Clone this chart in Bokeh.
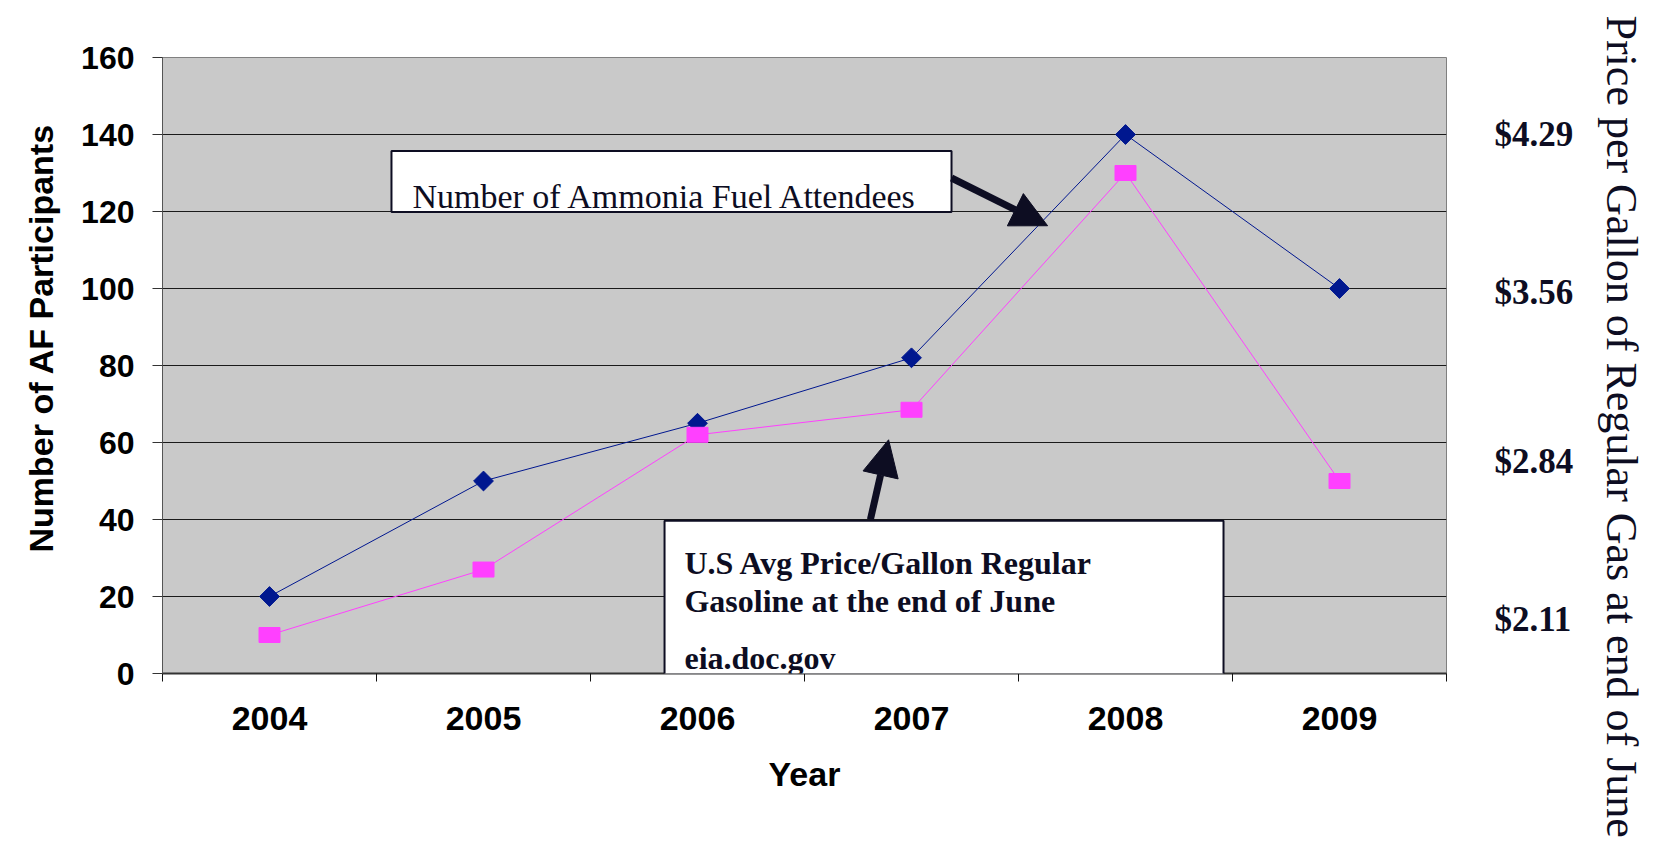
import math
from bokeh.plotting import figure
from bokeh.models import (Range1d, LinearAxis, FixedTicker, BoxAnnotation,
                          Label, Arrow, NormalHead, Title)
from bokeh.embed import file_html
from bokeh.resources import INLINE

# ---------------- data ----------------
years = [2004, 2005, 2006, 2007, 2008, 2009]
af_attendees = [20, 50, 65, 82, 140, 100]
gas_price_scaled = [10, 27, 62, 68.5, 130, 50]
left_ticks = [0, 20, 40, 60, 80, 100, 120, 140, 160]
price_tick_labels = ["$4.29", "$3.56", "$2.84", "$2.11"]
price_tick_pos = [140, 99, 55, 14]
category_edges = [2003.5, 2004.5, 2005.5, 2006.5, 2007.5, 2008.5, 2009.5]

BLUE = "#00178F"
PINK = "#FF40FF"
INK = "#0d0d22"
SANS = "Liberation Sans"
SERIF = "Liberation Serif"

p = figure(width=1670, height=841, output_backend="svg", toolbar_location=None,
           x_range=Range1d(2003.5, 2009.5), y_range=Range1d(0, 160),
           min_border_left=162, min_border_right=224, min_border_top=57,
           min_border_bottom=168, background_fill_color="#C9C9C9",
           border_fill_color="white")
p.outline_line_color = "#808080"
p.outline_line_width = 1

# grid
p.xgrid.visible = False
p.ygrid.ticker = FixedTicker(ticks=left_ticks)
p.ygrid.grid_line_color = "#1a1a1a"
p.ygrid.grid_line_width = 1

# left axis (title added separately so it can sit where the original does)
yax = p.yaxis[0]
yax.ticker = FixedTicker(ticks=left_ticks)
yax.major_label_text_font = SANS
yax.major_label_text_font_style = "bold"
yax.major_label_text_font_size = "32px"
yax.major_label_text_color = "black"
yax.major_label_standoff = 18
yax.major_tick_out = 10
yax.major_tick_in = 0
yax.major_tick_line_color = "#333333"
yax.minor_tick_line_color = None
yax.axis_line_color = "#555555"

p.add_layout(Title(text="Number of AF Participants", align="left", offset=121,
                   vertical_align="bottom", standoff=37, text_font=SANS,
                   text_font_style="bold", text_font_size="34px",
                   text_color="black"), "left")

# bottom axis
xax = p.xaxis[0]
xax.ticker = FixedTicker(ticks=years, minor_ticks=category_edges)
xax.axis_label = "Year"
xax.axis_label_text_font = SANS
xax.axis_label_text_font_style = "bold"
xax.axis_label_text_font_size = "34px"
xax.axis_label_text_color = "black"
xax.axis_label_standoff = 22
xax.major_label_text_font = SANS
xax.major_label_text_font_style = "bold"
xax.major_label_text_font_size = "34px"
xax.major_label_text_color = "black"
xax.major_label_standoff = 25
xax.major_tick_out = 0
xax.major_tick_in = 0
xax.minor_tick_out = 8
xax.minor_tick_in = 0
xax.minor_tick_line_color = "#111111"
xax.axis_line_color = "#333333"
xax.axis_line_width = 2

# right axis (price labels)
rax = LinearAxis(ticker=FixedTicker(ticks=price_tick_pos),
                 major_label_overrides={pos: lab for pos, lab in zip(price_tick_pos, price_tick_labels)})
rax.axis_line_color = None
rax.major_tick_line_color = None
rax.minor_tick_line_color = None
rax.major_tick_out = 0
rax.major_tick_in = 0
rax.major_label_text_font = SERIF
rax.major_label_text_font_style = "bold"
rax.major_label_text_font_size = "35px"
rax.major_label_text_color = INK
rax.major_label_standoff = 48
p.add_layout(rax, "right")

# right-hand title
p.add_layout(Title(text="Price per Gallon of Regular Gas at end of June",
                   align="left", offset=-42, vertical_align="bottom", standoff=41,
                   text_font=SERIF, text_font_style="normal", text_font_size="44px",
                   text_color=INK), "right")

# series
p.line(years, af_attendees, line_color=BLUE, line_width=1)
p.scatter(years, af_attendees, marker="square", angle=math.pi / 4, size=14,
          fill_color=BLUE, line_color=BLUE)
p.line(years, gas_price_scaled, line_color=PINK, line_width=1)
p.rect(years, gas_price_scaled, width=21, height=15, width_units="screen",
       height_units="screen", fill_color=PINK, line_color=PINK)

# annotation boxes
p.add_layout(BoxAnnotation(left=2004.57, right=2007.187, bottom=119.9, top=135.7,
                           fill_color="white", fill_alpha=1.0,
                           line_color=INK, line_width=2, line_alpha=1.0))
p.add_layout(BoxAnnotation(left=2005.846, right=2008.458, bottom=-0.3, top=39.7,
                           fill_color="white", fill_alpha=1.0,
                           line_color=INK, line_width=2, line_alpha=1.0))

p.add_layout(Label(x=2004.668, y=124.0, text="Number of Ammonia Fuel Attendees",
                   text_font=SERIF, text_font_size="34px", text_color=INK,
                   text_baseline="alphabetic", text_align="left"))
for txt, yy in [("U.S Avg Price/Gallon Regular", 28.8),
                ("Gasoline at the end of June", 18.9),
                ("eia.doc.gov", 3.9)]:
    p.add_layout(Label(x=2005.939, y=yy, text=txt, text_font=SERIF,
                       text_font_style="bold", text_font_size="32px",
                       text_color=INK, text_baseline="alphabetic",
                       text_align="left"))

# arrows
p.add_layout(Arrow(end=NormalHead(size=36, fill_color=INK, line_color=INK),
                   x_start=2007.187, y_start=128.7, x_end=2007.636, y_end=116.3,
                   line_color=INK, line_width=7))
p.add_layout(Arrow(end=NormalHead(size=36, fill_color=INK, line_color=INK),
                   x_start=2006.808, y_start=40.0, x_end=2006.893, y_end=60.7,
                   line_color=INK, line_width=7))

open("out.html", "w").write(file_html(p, INLINE))
